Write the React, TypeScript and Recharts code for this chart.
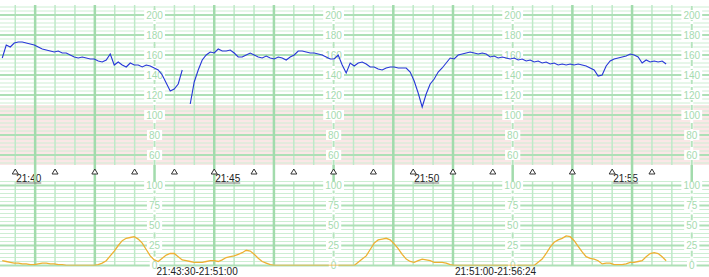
import React from 'react';
import {
  ComposedChart,
  Line,
  XAxis,
  YAxis,
  ReferenceLine,
  ReferenceArea,
  ReferenceDot,
} from 'recharts';

// ---- data (time in seconds relative to 21:40:00) ----
const SAMPLE_START = -19.6;
const SAMPLE_STEP = 6.03;

const fhrValues: (number | null)[] = [
  157, 170, 168, 172, 173, 173, 172, 171, 170, 168,
  166, 165, 164, 163, 164, 162, 162, 160, 158, 157,
  158, 157, 156, 156, 154, 153, 155, 161, 150, 153,
  150, 148, 152, 150, 150, 148, 150, 149, 147, 145,
  140, 132, 124, 126, 131, 145, null, 111, 133, 145,
  155, 160, 163, 162, 166, 164, 164, 165, 162, 158,
  158, 160, 162, 160, 158, 157, 159, 157, 156, 158,
  157, 155, 158, 160, 164, 164, 163, 162, 162, 161,
  160, 158, 156, 156, 160, 150, 142, 152, 149, 152,
  153, 151, 148, 148, 146, 145, 147, 148, 148, 147,
  147, 147, 143, 134, 122, 108, 121, 131, 136, 143,
  147, 152, 157, 156, 160, 161, 162, 163, 162, 161,
  162, 161, 158, 159, 157, 158, 157, 156, 157, 155,
  156, 154, 155, 153, 154, 152, 153, 151, 152, 150,
  151, 150, 151, 150, 151, 150, 149, 147, 145, 139,
  140, 149, 154, 156, 157, 158, 159, 161, 160, 158,
  152, 155, 153, 154, 153, 154, 151,
];

const tocoValues: number[] = [
  6, 5, 4, 3, 3, 2, 2, 1, 1, 2,
  3, 3, 2, 2, 1, 1, 0, 0, 0, 0,
  0, 0, 0, 0, 1, 3, 6, 12, 18, 25,
  31, 34, 35, 36, 33, 28, 20, 12, 7, 5,
  9, 13, 15, 15, 11, 7, 6, 5, 4, 4,
  4, 5, 6, 6, 5, 7, 10, 11, 12, 14,
  16, 19, 18, 14, 9, 5, 3, 1, 0, 0,
  0, 0, 0, 0, 0, 0, 0, 0, 0, 0,
  0, 0, 0, 0, 0, 0, 0, 0, 0, 4,
  8, 12, 20, 28, 32, 33, 34, 32, 27, 21,
  14, 8, 5, 4, 6, 8, 7, 6, 4, 4,
  4, 3, 1, 0, 0, 0, 0, 0, 0, 0,
  0, 0, 0, 0, 0, 0, 0, 0, 0, 0,
  0, 0, 0, 0, 4, 8, 15, 23, 29, 32,
  34, 37, 36, 31, 24, 17, 11, 9, 8, 6,
  2, 3, 3, 1, 1, 1, 2, 4, 4, 5,
  6, 11, 15, 16, 15, 11, 6,
];

const minuteMarks = [0, 60, 120, 180, 240, 300, 360, 420, 480, 540, 600, 660, 720, 780, 840, 900, 960];
const clockLabels: Record<number, string> = { 0: '21:40', 300: '21:45', 600: '21:50', 900: '21:55' };
const boldTimes = [30, 120, 210, 300, 390, 480, 570, 660, 750, 840, 930, 1020];
const scaleColumns = [210, 480, 750, 1020];
const fhrScaleLabels = [200, 180, 160, 140, 120, 100, 80, 60];
const tocoScaleLabels = [100, 75, 50, 25, 0];
const segmentStarts = [210, 660];
const segmentTexts: Record<number, string> = { 210: '21:43:30-21:51:00', 660: '21:51:00-21:56:24' };

// ---- grid helpers ----
const range = (a: number, b: number, s: number) => {
  const out: number[] = [];
  for (let v = a; v <= b + 1e-9; v += s) out.push(v);
  return out;
};
const halfMinuteTimes = range(0, 1020, 30);
const fhrMinor = range(52, 208, 4);
const fhrMajor = range(60, 200, 20);
const tocoMinor = range(5, 105, 5);
const tocoMajor = [0, 25, 50, 75, 100];
const stripTicks = Array.from(new Set([...minuteMarks, ...boldTimes])).sort((a, b) => a - b);

const rows = fhrValues.map((v, i) => ({
  t: SAMPLE_START + i * SAMPLE_STEP,
  fhr: v,
  toco: tocoValues[i],
}));

const X_DOMAIN: [number, number] = [-23, 1046];
const FONT = '"Liberation Sans", Arial, sans-serif';
const C = {
  minor: '#cdeed3',
  thin: '#bfe9c8',
  major: '#ade0b6',
  bold: '#a2dbac',
  column: '#b6e4be',
  label: '#a6dbaf',
  pink: '#fbe7e7',
  fhr: '#2636d8',
  toco: '#eeb033',
};

const scaleLabelShape = (text: string) => (p: any) => {
  const w = text.length * 5.6 + 4;
  return (
    <g>
      <rect x={p.cx - w / 2} y={p.cy - 5} width={w} height={10} fill="#ffffff" />
      <text x={p.cx} y={p.cy + 3.6} textAnchor="middle" fontSize={10} fontFamily={FONT} fill={C.label}>
        {text}
      </text>
    </g>
  );
};

const StripTick = (props: any) => {
  const { x, y, payload } = props;
  const v = payload.value;
  const parts: React.ReactNode[] = [];
  if (boldTimes.includes(v)) {
    parts.push(<line key="b" x1={x} x2={x} y1={y} y2={y + 16.5} stroke={C.bold} strokeWidth={2.5} />);
  }
  if (minuteMarks.includes(v)) {
    parts.push(
      <path key="t" d={`M${x},${y + 4} L${x + 3},${y + 9} L${x - 3},${y + 9} Z`} fill="#fff" stroke="#333" strokeWidth={1} />
    );
  }
  if (clockLabels[v]) {
    parts.push(
      <g key="l">
        <text x={x + 1} y={y + 17} fontSize={10} fontFamily={FONT} fill="#222">
          {clockLabels[v]}
        </text>
        <line x1={x + 1} x2={x + 26} y1={y + 18} y2={y + 18} stroke="#777" strokeWidth={1} />
      </g>
    );
  }
  return <g>{parts}</g>;
};

const SegmentTick = (props: any) => {
  const { x, y, payload } = props;
  const text = segmentTexts[payload.value];
  if (!text) return <g />;
  return (
    <text x={x + 2} y={y + 9} fontSize={10} fontFamily={FONT} fill="#222">
      {text}
    </text>
  );
};

export default function App() {
  return (
    <div style={{ position: 'fixed', left: 0, top: 0, width: 709, height: 277, background: '#fff', overflow: 'hidden' }}>
      {/* bottom panel: uterine activity */}
      <div style={{ position: 'absolute', left: 0, top: 181 }}>
        <ComposedChart width={709} height={96} data={rows} margin={{ top: 0.5, right: 0, bottom: 0, left: 0 }}>
          <XAxis
            dataKey="t"
            type="number"
            domain={X_DOMAIN}
            allowDataOverflow
            ticks={segmentStarts}
            interval={0}
            tick={SegmentTick}
            tickLine={false}
            axisLine={false}
            tickSize={0}
            tickMargin={0}
            height={11.5}
          />
          <YAxis hide type="number" domain={[0, 105]} allowDataOverflow />
          {tocoMinor.map((v) => (
            <ReferenceLine key={'tm' + v} y={v} stroke={C.minor} strokeWidth={1} zIndex={-300} />
          ))}
          {halfMinuteTimes.map((t) => (
            <ReferenceLine key={'tv' + t} x={t} stroke={C.thin} strokeWidth={1.5} zIndex={-280} />
          ))}
          {tocoMajor.map((v) => (
            <ReferenceLine key={'tM' + v} y={v} stroke={C.major} strokeWidth={2} zIndex={-260} />
          ))}
          {boldTimes.filter((t) => !scaleColumns.includes(t)).map((t) => (
            <ReferenceLine key={'tb' + t} x={t} stroke={C.bold} strokeWidth={2.5} zIndex={-240} />
          ))}
          {scaleColumns.map((t) => (
            <ReferenceLine key={'tc' + t} x={t} stroke="#fff" strokeWidth={3} zIndex={-230} />
          ))}
          {scaleColumns.map((t) => (
            <ReferenceLine key={'td' + t} x={t} stroke={C.column} strokeWidth={2} strokeDasharray="6 3" zIndex={-220} />
          ))}
          {scaleColumns.map((t) =>
            tocoScaleLabels.map((v) => (
              <ReferenceDot key={'tl' + t + '_' + v} x={t} y={v} r={0} ifOverflow="visible" shape={scaleLabelShape(String(v))} zIndex={-200} />
            ))
          )}
          <Line
            dataKey="toco"
            type="linear"
            stroke={C.toco}
            strokeWidth={1.3}
            dot={false}
            isAnimationActive={false}
          />
        </ComposedChart>
      </div>

      {/* top panel: fetal heart rate + time strip */}
      <div style={{ position: 'absolute', left: 0, top: 0 }}>
        <ComposedChart width={709} height={186} data={rows} margin={{ top: 5, right: 0, bottom: 0, left: 0 }}>
          <XAxis
            dataKey="t"
            type="number"
            domain={X_DOMAIN}
            allowDataOverflow
            ticks={stripTicks}
            interval={0}
            tick={StripTick}
            tickLine={false}
            axisLine={false}
            tickSize={0}
            tickMargin={0}
            height={21}
          />
          <YAxis hide type="number" domain={[50, 210]} allowDataOverflow />
          <ReferenceArea y1={50} y2={110} fill={C.pink} fillOpacity={1} stroke="none" zIndex={-320} />
          {fhrMinor.map((v) => (
            <ReferenceLine key={'fm' + v} y={v} stroke={C.minor} strokeWidth={1} zIndex={-300} />
          ))}
          {halfMinuteTimes.map((t) => (
            <ReferenceLine key={'fv' + t} x={t} stroke={C.thin} strokeWidth={1.5} zIndex={-280} />
          ))}
          {fhrMajor.map((v) => (
            <ReferenceLine key={'fM' + v} y={v} stroke={C.major} strokeWidth={2} zIndex={-260} />
          ))}
          {boldTimes.filter((t) => !scaleColumns.includes(t)).map((t) => (
            <ReferenceLine key={'fb' + t} x={t} stroke={C.bold} strokeWidth={2.5} zIndex={-240} />
          ))}
          {scaleColumns.map((t) => (
            <ReferenceLine key={'fc' + t} x={t} stroke="#fff" strokeWidth={3} zIndex={-230} />
          ))}
          {scaleColumns.map((t) => (
            <ReferenceLine key={'fd' + t} x={t} stroke={C.column} strokeWidth={2} strokeDasharray="6 3" zIndex={-220} />
          ))}
          {scaleColumns.map((t) =>
            fhrScaleLabels.map((v) => (
              <ReferenceDot key={'fl' + t + '_' + v} x={t} y={v} r={0} ifOverflow="visible" shape={scaleLabelShape(String(v))} zIndex={-200} />
            ))
          )}
          <Line
            dataKey="fhr"
            type="linear"
            stroke={C.fhr}
            strokeWidth={1.1}
            dot={false}
            connectNulls={false}
            isAnimationActive={false}
          />
        </ComposedChart>
      </div>
    </div>
  );
}
